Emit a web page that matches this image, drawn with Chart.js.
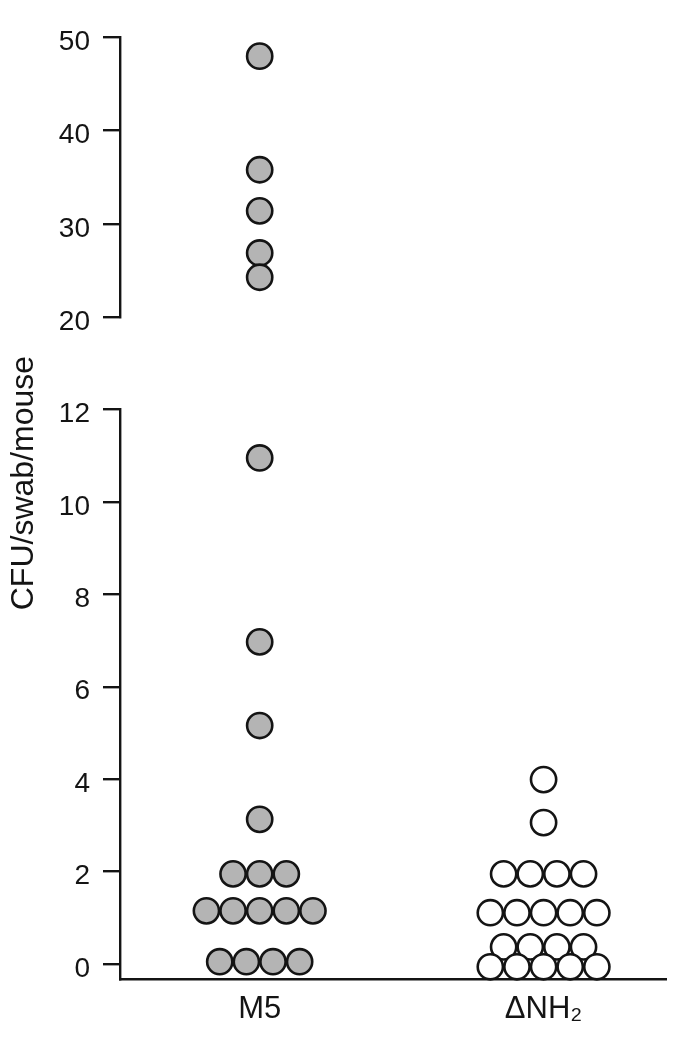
<!DOCTYPE html>
<html lang="en">
<head>
    <meta charset="UTF-8">
    <title>CFU/swab/mouse</title>
    <style>
        body {
            margin: 0;
            background-color: #ffffff;
        }
        #wrap {
            position: relative;
            width: 682px;
            height: 1050px;
        }
    </style>
</head>
<body>
    <div id="wrap">
        <canvas id="dotChart"></canvas>
    </div>

    <script src="https://cdn.jsdelivr.net/npm/chart.js"></script>
    <script>
        // categories and values
        const categories = ['M5', 'ΔNH₂'];
        const m5Values = [47.95, 35.8, 31.4, 26.9, 24.3, 10.95, 6.97, 5.16, 3.13,
            1.95, 1.95, 1.95,
            1.15, 1.15, 1.15, 1.15, 1.15,
            0.05, 0.05, 0.05, 0.05];
        const dnh2Values = [3.99, 3.06,
            1.95, 1.95, 1.95, 1.95,
            1.11, 1.11, 1.11, 1.11, 1.11,
            0.37, 0.37, 0.37, 0.37,
            -0.06, -0.06, -0.06, -0.06, -0.06];
        const lowTicks = [0, 2, 4, 6, 8, 10, 12];
        const highTicks = [20, 30, 40, 50];
        const yTitle = 'CFU/swab/mouse';

        const ink = '#141414';
        const family = "'Liberation Sans', Arial, Helvetica, sans-serif";
        const breakAt = (lowTicks[lowTicks.length - 1] + highTicks[0]) / 2;

        // spread equal values side by side, like a dot plot
        function swarm(values, center, step) {
            const counts = {};
            values.forEach(v => { counts[v] = (counts[v] || 0) + 1; });
            const seen = {};
            return values.map(v => {
                const i = seen[v] || 0;
                seen[v] = i + 1;
                return { x: center + (i - (counts[v] - 1) / 2) * step, y: v };
            });
        }

        const step = 0.0938;
        const m5Points = swarm(m5Values, 1, step);
        const dnh2Points = swarm(dnh2Values, 2, step);

        const dotStyle = {
            pointRadius: 12.6,
            pointHoverRadius: 12.6,
            pointBorderWidth: 2.6,
            pointHoverBorderWidth: 2.6,
            pointBorderColor: ink,
            pointHoverBorderColor: ink,
            showLine: false,
            clip: false
        };

        const hiddenAxis = (w, stack, weight, sw) => ({
            type: 'linear',
            position: 'left',
            stack: stack,
            stackWeight: sw,
            weight: weight,
            ticks: { display: false },
            grid: { display: false, drawTicks: false },
            border: { display: false },
            afterFit: s => { s.width = w; }
        });

        const valueAxis = (min, max, ticks, weight, sw) => ({
            type: 'linear',
            position: 'left',
            stack: 'y',
            stackWeight: sw,
            weight: weight,
            min: min,
            max: max,
            afterBuildTicks: s => { s.ticks = ticks.map(v => ({ value: v })); },
            ticks: {
                color: ink,
                font: { family: family, size: 28 },
                padding: 13,
                labelOffset: 5
            },
            grid: {
                drawOnChartArea: false,
                drawTicks: true,
                tickLength: 17,
                tickWidth: 2.4,
                tickColor: ink,
                lineWidth: 2.4,
                color: ink
            },
            border: { display: true, color: ink, width: 2.4 },
            afterFit: s => { s.width = 61; }
        });

        const ctx = document.getElementById('dotChart').getContext('2d');
        const chart = new Chart(ctx, {
            type: 'scatter',
            data: {
                datasets: [
                    Object.assign({
                        label: categories[0],
                        data: m5Points.filter(p => p.y < breakAt),
                        yAxisID: 'yLow',
                        pointBackgroundColor: '#b4b4b4',
                        pointHoverBackgroundColor: '#b4b4b4'
                    }, dotStyle),
                    Object.assign({
                        label: categories[0],
                        data: m5Points.filter(p => p.y >= breakAt),
                        yAxisID: 'yHigh',
                        pointBackgroundColor: '#b4b4b4',
                        pointHoverBackgroundColor: '#b4b4b4'
                    }, dotStyle),
                    Object.assign({
                        label: categories[1],
                        data: dnh2Points,
                        yAxisID: 'yLow',
                        pointBackgroundColor: '#ffffff',
                        pointHoverBackgroundColor: '#ffffff'
                    }, dotStyle)
                ]
            },
            options: {
                responsive: true,
                maintainAspectRatio: false,
                animation: false,
                layout: {
                    padding: { top: 37, right: 14, bottom: 0, left: 0 }
                },
                plugins: {
                    legend: { display: false },
                    tooltip: { enabled: false }
                },
                scales: {
                    x: {
                        type: 'linear',
                        min: 0.508,
                        max: 2.434,
                        afterBuildTicks: s => { s.ticks = categories.map((c, i) => ({ value: i + 1 })); },
                        ticks: {
                            color: ink,
                            font: { family: family, size: 31 },
                            padding: 12,
                            callback: v => categories[v - 1]
                        },
                        grid: { display: false, drawTicks: false },
                        border: { display: true, color: ink, width: 2.4 },
                        afterFit: s => { s.height = 70.7; }
                    },
                    yLow: valueAxis(-0.331, 12, lowTicks, 1, 570),
                    yGap: hiddenAxis(61, 'y', 2, 92),
                    yHigh: valueAxis(20, 50, highTicks, 3, 280.5),
                    titleTop: Object.assign(hiddenAxis(59, 'title', 10, 892.4), {
                        title: {
                            display: true,
                            text: yTitle,
                            color: ink,
                            font: { family: family, size: 32 },
                            padding: { top: 5, bottom: 0 }
                        }
                    }),
                    titleBottom: hiddenAxis(59, 'title', 9, 50.1)
                }
            }
        });
    </script>
</body>
</html>
